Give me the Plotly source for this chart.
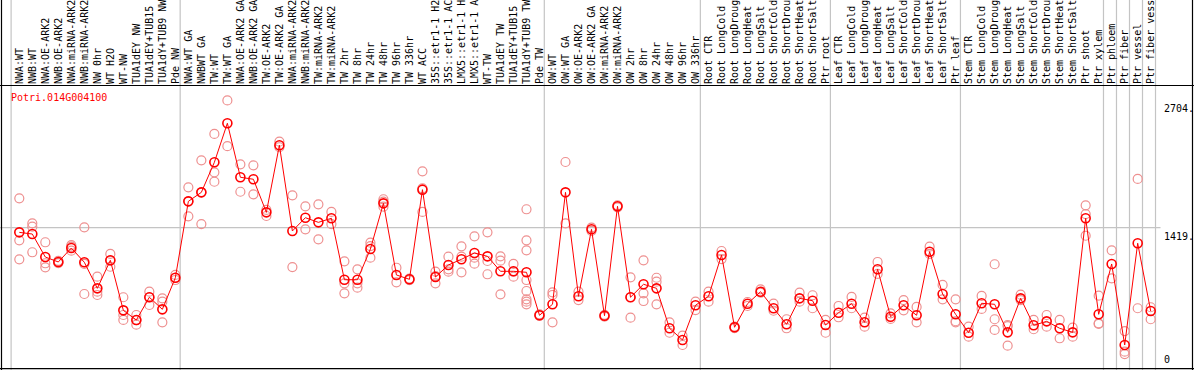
import plotly.graph_objects as go

# ---------------- data ----------------
title_text = "Potri.014G004100"

labels = [
    # group 1
    "NWA:WT", "NWB:WT", "NWA:OE-ARK2", "NWB:OE-ARK2", "NWA:miRNA-ARK2", "NWB:miRNA-ARK2",
    "NW 0hr", "WT H2O", "WT-NW", "TUA1dEY NW", "TUA1dEY+TUB15 NW", "TUA1dY+TUB9 NW", "Pde NW",
    # group 2
    "NWA:WT GA", "NWBWT GA", "TW:WT", "TW:WT GA", "NWA:OE-ARK2 GA", "NWB:OE-ARK2 GA",
    "TW:OE-ARK2", "TW:OE-ARK2 GA", "NWA:miRNA-ARK2 GA", "NWB:miRNA-ARK2 GA", "TW:miRNA-ARK2",
    "TW:miRNA-ARK2 GA", "TW 2hr", "TW 8hr", "TW 24hr", "TW 48hr", "TW 96hr", "TW 336hr", "WT ACC",
    "35S::etr1-1 H2O", "35S::etr1-1 ACC", "LMX5::etr1-1 H2O", "LMX5::etr1-1 ACC", "WT-TW",
    "TUA1dEY TW", "TUA1dEY+TUB15 TW", "TUA1dY+TUB9 TW", "Pde TW",
    # group 3
    "OW:WT", "OW:WT GA", "OW:OE-ARK2", "OW:OE-ARK2 GA", "OW:miRNA-ARK2", "OW:miRNA-ARK2 GA",
    "OW 2hr", "OW 8hr", "OW 24hr", "OW 48hr", "OW 96hr", "OW 336hr",
    # root
    "Root CTR", "Root LongCold", "Root LongDrought", "Root LongHeat", "Root LongSalt",
    "Root ShortCold", "Root ShortDrought", "Root ShortHeat", "Root ShortSalt", "Ptr root",
    # leaf
    "Leaf CTR", "Leaf LongCold", "Leaf LongDrought", "Leaf LongHeat", "Leaf LongSalt",
    "Leaf ShortCold", "Leaf ShortDrought", "Leaf ShortHeat", "Leaf ShortSalt", "Ptr leaf",
    # stem
    "Stem CTR", "Stem LongCold", "Stem LongDrought", "Stem LongHeat", "Stem LongSalt",
    "Stem ShortCold", "Stem ShortDrought", "Stem ShortHeat", "Stem ShortSalt", "Ptr shoot",
    "Ptr xylem", "Ptr phloem", "Ptr fiber", "Ptr vessel", "Ptr fiber vessel",
]

means = [
    1372, 1355, 1123, 1073, 1214, 1070, 807, 1090, 585, 487, 717, 595, 914,
    1685, 1776, 2079, 2473, 1928, 1908, 1574, 2251, 1386, 1520, 1473, 1514, 894, 894,
    1204, 1665, 942, 898, 1803, 921, 1043, 1100, 1164, 1130, 979, 979, 969, 535,
    646, 1776, 727, 1403, 531, 1635, 717, 848, 807, 404, 286, 636,
    727, 1143, 414, 652, 773, 606, 444, 706, 682, 437,
    561, 652, 464, 999, 521, 636, 535, 1177, 750, 545,
    359, 656, 646, 363, 706, 434, 474, 404, 363, 1514, 545, 1053, 235, 1262, 578,
]

replicates = [
    [1716, 1292, 1100], [1463, 1429, 1171], [1272, 1060, 1019], [1085, 1070, 1062],
    [1244, 1228, 1187], [1423, 1053, 750], [925, 773, 740], [1154, 1086, 1025],
    [717, 538, 488], [538, 487, 440], [773, 717, 639], [706, 672, 464], [942, 914, 891],
    [1827, 1685, 1534], [2099, 1776, 1456], [2365, 1978, 1883], [2704, 2242],
    [2059, 1782], [2049, 1756], [1598, 1537], [2287, 2231], [1746, 1022], [1635, 1403],
    [1655, 1302], [1578, 1456], [1080, 858, 757], [999, 858, 814], [1268, 1234, 1116],
    [1706, 1682, 1631], [1015, 868], [905, 890], [1988, 1817, 1578], [975, 930, 858],
    [1127, 999, 975], [1231, 1127, 969], [1332, 1116, 1056], [1372, 1083, 949],
    [1130, 1086, 747], [1053, 975, 925], [1605, 1292, 1191, 891, 780, 696, 672, 646],
    [545, 530],
    [767, 740, 464], [2082, 1463], [773, 689], [1420, 1386], [540, 522], [1645, 1625],
    [918, 717, 511], [1090, 757, 679], [914, 874, 646], [464, 359], [329, 235], [672, 588],
    [773, 672], [1184, 1102], [420, 405], [669, 629], [797, 763], [652, 581], [495, 404],
    [763, 672], [737, 606], [488, 359],
    [629, 515], [720, 606], [511, 420], [1073, 952], [555, 498], [689, 585], [619, 464],
    [1228, 1154], [841, 696], [696, 475, 464],
    [420, 319], [730, 599], [1050, 495, 387], [437, 425, 228], [743, 689], [488, 394],
    [538, 420], [488, 303], [410, 319], [1645, 1557, 1338], [733, 454, 448], [1191, 908],
    [376, 168, 144], [1911, 606], [616, 495],
]

# index where each separated block starts (plus the end)
group_starts = [0, 13, 41, 53, 63, 73, 84, 85, 86, 87, 88]
axis_ticks = [0, 1419, 2704]
axis_tick_text = ["0", "1419.", "2704."]

# ---------------- figure ----------------
W, H = 1194, 370
TOP = 85
x_range = [-1.484, 90.33]
y_range = [-17.2, 2859.3]

xs = list(range(len(labels)))
rep_x, rep_y = [], []
for i, reps in enumerate(replicates):
    for v in reps:
        rep_x.append(i)
        rep_y.append(v)

MONO = "DejaVu Sans Mono"

fig = go.Figure()
fig.add_trace(go.Scatter(
    x=rep_x, y=rep_y, mode="markers",
    marker=dict(symbol="circle-open", size=9, color="#EE9090", line=dict(width=1.2, color="#EE9090")),
    hoverinfo="skip", showlegend=False,
))
fig.add_trace(go.Scatter(
    x=xs, y=means, mode="lines+markers",
    line=dict(color="#FF0000", width=1),
    marker=dict(symbol="circle-open", size=9, color="#FF0000", line=dict(width=1.6, color="#FF0000")),
    showlegend=False,
))

shapes = []
# vertical group separators (full height incl. label area)
for s in group_starts:
    shapes.append(dict(type="line", xref="x", yref="paper", x0=s - 0.63, x1=s - 0.63,
                       y0=-0.02, y1=1.32, line=dict(color="#C4C4C4", width=1.2), layer="below"))
# horizontal grid line at middle tick
shapes.append(dict(type="line", xref="paper", yref="y", x0=0, x1=1160.5 / W,
                   y0=axis_ticks[1], y1=axis_ticks[1], line=dict(color="#C4C4C4", width=1.2), layer="below"))
# black frame lines
ptop = (H - TOP - 0.5) / (H - TOP)
shapes.append(dict(type="line", xref="paper", yref="paper", x0=0, x1=1, y0=ptop, y1=ptop,
                   line=dict(color="black", width=1.2)))
shapes.append(dict(type="line", xref="paper", yref="paper", x0=0, x1=1, y0=1.3 / (H - TOP), y1=1.3 / (H - TOP),
                   line=dict(color="black", width=1.2)))
shapes.append(dict(type="line", xref="paper", yref="paper", x0=1.5 / W, x1=1.5 / W, y0=-0.02, y1=1.32,
                   line=dict(color="black", width=1.2)))
shapes.append(dict(type="line", xref="paper", yref="paper", x0=(W - 1.5) / W, x1=(W - 1.5) / W, y0=-0.02, y1=1.32,
                   line=dict(color="black", width=1.2)))

annotations = [
    dict(text=title_text, xref="paper", yref="paper", x=9 / W, y=(H - 90) / (H - TOP),
         xanchor="left", yanchor="top", showarrow=False, font=dict(family=MONO, size=10, color="#FF0000")),
]
for v, t in zip(axis_ticks, axis_tick_text):
    annotations.append(dict(text=t, xref="paper", yref="y", x=1162 / W, y=v,
                            xanchor="left", yanchor="bottom" if v == 0 else "top",
                            yshift=1 if v == 0 else -1,
                            showarrow=False, font=dict(family=MONO, size=10, color="black")))

fig.update_layout(
    width=W, height=H,
    margin=dict(l=0, r=0, t=TOP, b=0, pad=0),
    paper_bgcolor="white", plot_bgcolor="white",
    shapes=shapes, annotations=annotations,
    xaxis=dict(range=x_range, tickmode="array", tickvals=xs, ticktext=labels, side="top",
               tickangle=-90, tickfont=dict(family=MONO, size=10, color="black"),
               showgrid=False, zeroline=False, showline=False, ticks="", automargin=False,
               fixedrange=True),
    yaxis=dict(range=y_range, visible=False, showgrid=False, zeroline=False, fixedrange=True),
    showlegend=False,
)

fig.write_html("out.html",
               config={"displayModeBar": False},
               post_script="document.body.style.margin='0';document.body.style.overflow='hidden';")
